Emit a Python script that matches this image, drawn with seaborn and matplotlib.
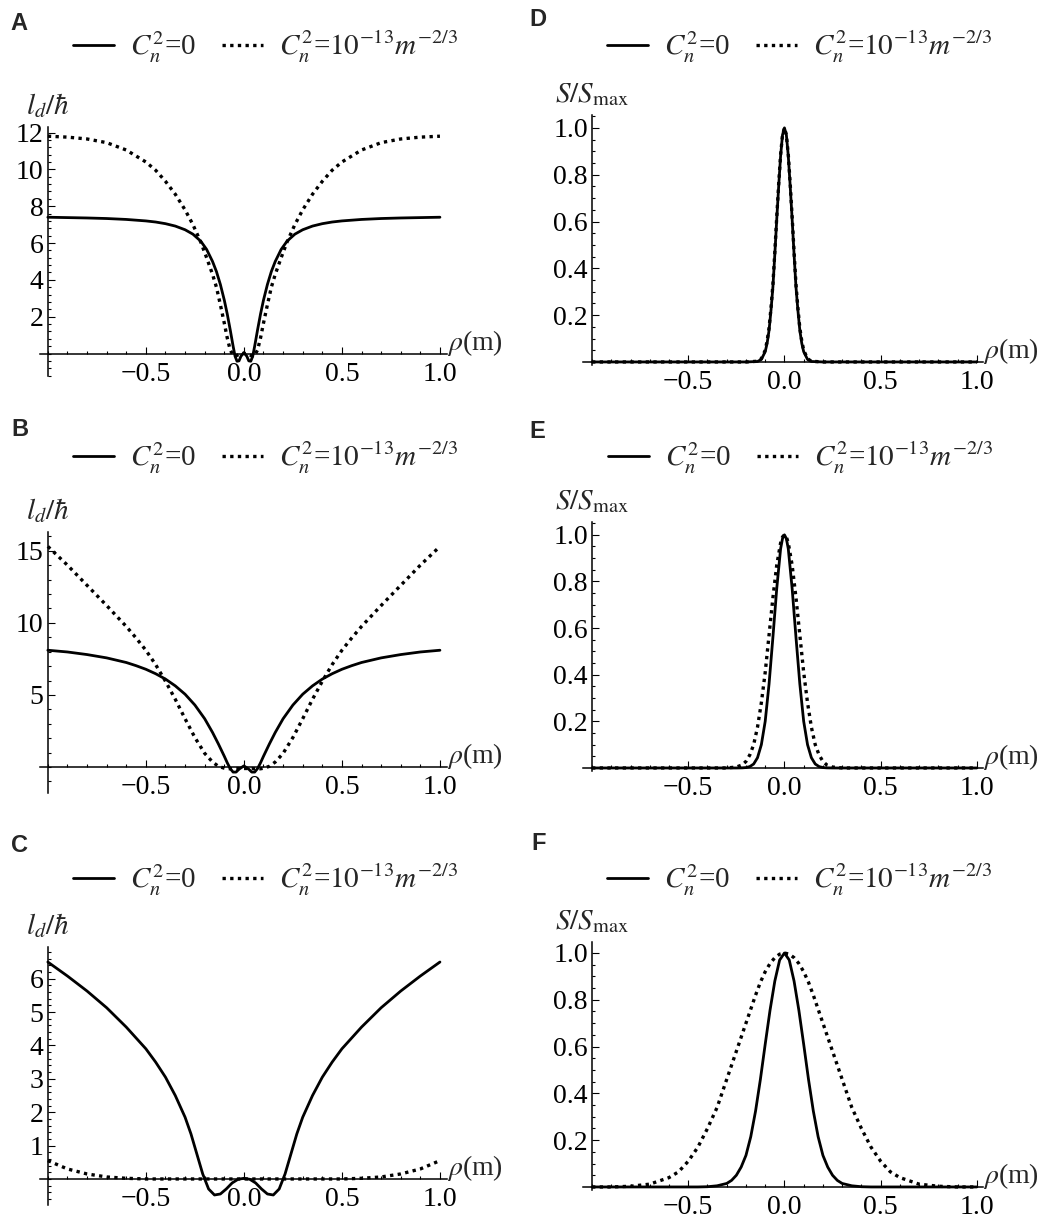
import matplotlib
matplotlib.use("Agg")
import matplotlib.pyplot as plt
import seaborn as sns
import numpy as np
import pandas as pd
from matplotlib.lines import Line2D
from matplotlib.ticker import MultipleLocator

sns.set_theme(style="white")
plt.rcParams["font.family"] = ["Liberation Serif", "DejaVu Serif"]
plt.rcParams["mathtext.fontset"] = "stix"
plt.rcParams["axes.unicode_minus"] = True

# ---- data (rho in m) ----
rho_a = [-1.0, -0.9, -0.8, -0.7, -0.6, -0.5, -0.45, -0.4, -0.35, -0.3, -0.26, -0.22, -0.19, -0.16,
         -0.14, -0.12, -0.1, -0.085, -0.07, -0.055, -0.045, -0.035, -0.025, -0.015, 0.0,
         0.015, 0.025, 0.035, 0.045, 0.055, 0.07, 0.085, 0.1, 0.12, 0.14, 0.16, 0.19, 0.22,
         0.26, 0.3, 0.35, 0.4, 0.45, 0.5, 0.6, 0.7, 0.8, 0.9, 1.0]
ld_a_vac = [7.4, 7.38, 7.36, 7.33, 7.28, 7.2, 7.14, 7.05, 6.92, 6.72, 6.48, 6.1, 5.65, 5.0,
            4.45, 3.75, 2.9, 2.15, 1.3, 0.4, -0.15, -0.42, -0.4, -0.15, 0.05,
            -0.15, -0.4, -0.42, -0.15, 0.4, 1.3, 2.15, 2.9, 3.75, 4.45, 5.0, 5.65, 6.1,
            6.48, 6.72, 6.92, 7.05, 7.14, 7.2, 7.28, 7.33, 7.36, 7.38, 7.4]
ld_a_turb = [11.8, 11.75, 11.65, 11.45, 11.05, 10.4, 9.95, 9.35, 8.65, 7.8, 7.0, 6.05, 5.2, 4.3,
             3.6, 2.65, 1.65, 0.85, 0.2, -0.1, -0.15, -0.1, -0.05, 0.0, 0.0,
             0.0, -0.05, -0.1, -0.15, -0.1, 0.2, 0.85, 1.65, 2.65, 3.6, 4.3, 5.2, 6.05,
             7.0, 7.8, 8.65, 9.35, 9.95, 10.4, 11.05, 11.45, 11.65, 11.75, 11.8]

rho_b = [-1.0, -0.9, -0.8, -0.7, -0.6, -0.55, -0.5, -0.45, -0.4, -0.35, -0.3, -0.25, -0.2, -0.16,
         -0.13, -0.1, -0.085, -0.07, -0.055, -0.04, -0.025, 0.0,
         0.025, 0.04, 0.055, 0.07, 0.085, 0.1, 0.13, 0.16, 0.2, 0.25, 0.3, 0.35, 0.4, 0.45,
         0.5, 0.55, 0.6, 0.7, 0.8, 0.9, 1.0]
ld_b_vac = [8.1, 7.98, 7.8, 7.57, 7.25, 7.03, 6.78, 6.47, 6.1, 5.63, 5.05, 4.3, 3.35, 2.4,
            1.6, 0.75, 0.3, -0.1, -0.35, -0.35, -0.15, 0.08,
            -0.15, -0.35, -0.35, -0.1, 0.3, 0.75, 1.6, 2.4, 3.35, 4.3, 5.05, 5.63, 6.1, 6.47,
            6.78, 7.03, 7.25, 7.57, 7.8, 7.98, 8.1]
ld_b_turb = [15.3, 14.0, 12.6, 11.2, 9.75, 8.95, 8.1, 7.1, 5.95, 4.7, 3.35, 2.05, 0.95, 0.35,
             0.05, -0.08, -0.12, -0.12, -0.12, -0.1, -0.1, -0.1,
             -0.1, -0.1, -0.12, -0.12, -0.12, -0.08, 0.05, 0.35, 0.95, 2.05, 3.35, 4.7, 5.95, 7.1,
             8.1, 8.95, 9.75, 11.2, 12.6, 14.0, 15.3]

rho_c = [-1.0, -0.9, -0.8, -0.7, -0.6, -0.5, -0.45, -0.4, -0.35, -0.3, -0.27, -0.24, -0.21, -0.18,
         -0.15, -0.12, -0.09, -0.06, -0.03, 0.0,
         0.03, 0.06, 0.09, 0.12, 0.15, 0.18, 0.21, 0.24, 0.27, 0.3, 0.35, 0.4, 0.45, 0.5,
         0.6, 0.7, 0.8, 0.9, 1.0]
ld_c_vac = [6.5, 6.08, 5.63, 5.13, 4.55, 3.9, 3.5, 3.05, 2.5, 1.85, 1.35, 0.75, 0.15, -0.3,
            -0.48, -0.45, -0.3, -0.12, -0.01, 0.02,
            -0.01, -0.12, -0.3, -0.45, -0.48, -0.3, 0.15, 0.75, 1.35, 1.85, 2.5, 3.05, 3.5, 3.9,
            4.55, 5.13, 5.63, 6.08, 6.5]
ld_c_turb = [0.55, 0.3, 0.15, 0.06, 0.02, 0.0, 0.0, 0.0, 0.0, 0.0, 0.0, 0.0, 0.0, 0.0,
             0.0, 0.0, 0.0, 0.0, 0.0, 0.0,
             0.0, 0.0, 0.0, 0.0, 0.0, 0.0, 0.0, 0.0, 0.0, 0.0, 0.0, 0.0, 0.0, 0.0,
             0.02, 0.06, 0.15, 0.3, 0.55]

rho_d = [-1.0, -0.5, -0.2, -0.14, -0.12, -0.1, -0.09, -0.08, -0.07, -0.06, -0.05, -0.04, -0.03,
         -0.02, -0.01, 0.0, 0.01, 0.02, 0.03, 0.04, 0.05, 0.06, 0.07, 0.08, 0.09, 0.1, 0.12,
         0.14, 0.2, 0.5, 1.0]
s_d_vac = [0.0, 0.0, 0.0, 0.002, 0.011, 0.044, 0.08, 0.135, 0.22, 0.32, 0.46, 0.61, 0.75,
           0.88, 0.97, 1.0, 0.97, 0.88, 0.75, 0.61, 0.46, 0.32, 0.22, 0.135, 0.08, 0.044, 0.011,
           0.002, 0.0, 0.0, 0.0]
s_d_turb = [0.0, 0.0, 0.0, 0.003, 0.014, 0.05, 0.09, 0.145, 0.23, 0.33, 0.47, 0.62, 0.76,
            0.885, 0.97, 1.0, 0.97, 0.885, 0.76, 0.62, 0.47, 0.33, 0.23, 0.145, 0.09, 0.05, 0.014,
            0.003, 0.0, 0.0, 0.0]

rho_e = [-1.0, -0.5, -0.3, -0.25, -0.22, -0.2, -0.18, -0.16, -0.14, -0.12, -0.1, -0.08, -0.06,
         -0.04, -0.02, -0.01, 0.0, 0.01, 0.02, 0.04, 0.06, 0.08, 0.1, 0.12, 0.14, 0.16, 0.18,
         0.2, 0.22, 0.25, 0.3, 0.5, 1.0]
s_e_vac = [0.0, 0.0, 0.0, 0.0, 0.0005, 0.0017, 0.006, 0.017, 0.044, 0.1, 0.2, 0.36, 0.56,
           0.77, 0.94, 0.984, 1.0, 0.984, 0.94, 0.77, 0.56, 0.36, 0.2, 0.1, 0.044, 0.017, 0.006,
           0.0017, 0.0005, 0.0, 0.0, 0.0, 0.0]
s_e_turb = [0.0, 0.0, 0.0, 0.004, 0.013, 0.028, 0.056, 0.1, 0.175, 0.28, 0.41, 0.57, 0.73,
            0.87, 0.965, 0.991, 1.0, 0.991, 0.965, 0.87, 0.73, 0.57, 0.41, 0.28, 0.175, 0.1,
            0.056, 0.028, 0.013, 0.004, 0.0, 0.0, 0.0]

rho_f = [-1.0, -0.9, -0.8, -0.7, -0.6, -0.55, -0.5, -0.45, -0.4, -0.35, -0.3, -0.275, -0.25,
         -0.225, -0.2, -0.175, -0.15, -0.125, -0.1, -0.075, -0.05, -0.025, 0.0, 0.025, 0.05,
         0.075, 0.1, 0.125, 0.15, 0.175, 0.2, 0.225, 0.25, 0.275, 0.3, 0.35, 0.4, 0.45, 0.5,
         0.55, 0.6, 0.7, 0.8, 0.9, 1.0]
s_f_vac = [0.0, 0.0, 0.0, 0.0, 0.0, 0.0, 0.0, 0.0, 0.001, 0.005, 0.015, 0.028, 0.05,
           0.085, 0.135, 0.215, 0.325, 0.46, 0.61, 0.755, 0.88, 0.97, 1.0, 0.97, 0.88,
           0.755, 0.61, 0.46, 0.325, 0.215, 0.135, 0.085, 0.05, 0.028, 0.015, 0.005, 0.001,
           0.0, 0.0, 0.0, 0.0, 0.0, 0.0, 0.0, 0.0]
s_f_turb = [0.0, 0.0, 0.003, 0.012, 0.04, 0.065, 0.11, 0.17, 0.25, 0.34, 0.46, 0.52, 0.58,
            0.64, 0.7, 0.76, 0.82, 0.875, 0.92, 0.955, 0.98, 0.995, 1.0, 0.995, 0.98,
            0.955, 0.92, 0.875, 0.82, 0.76, 0.7, 0.64, 0.58, 0.52, 0.46, 0.34, 0.25, 0.17, 0.11,
            0.065, 0.04, 0.012, 0.003, 0.0, 0.0]

x_ticks = [-0.5, 0.0, 0.5, 1.0]
x_tick_labels = ["\u22120.5", "0.0", "0.5", "1.0"]
legend_labels = [r"$C_n^2$=0", r"$C_n^2$=$10^{-13}m^{-2/3}$"]

W, H = 1060, 1219
fig = plt.figure(figsize=(W / 100, H / 100), dpi=100)

# letter, x, vac, turb, rect px (left, top, right, bottom), ylim, yticks, minor step, ylabel,
# letter pos px, legend centre px
panels = [
    ("A", rho_a, ld_a_vac, ld_a_turb, (40, 127, 447, 375.6), (-1.2, 12.3),
     [2, 4, 6, 8, 10, 12], 0.4, r"$l_d/\hbar$", (19, 24), (266, 47)),
    ("B", rho_b, ld_b_vac, ld_b_turb, (40, 532, 447, 793), (-1.8, 16.3),
     [5, 10, 15], 1.0, r"$l_d/\hbar$", (20, 430), (266, 458)),
    ("C", rho_c, ld_c_vac, ld_c_turb, (40, 947, 447, 1205), (-0.78, 6.95),
     [1, 2, 3, 4, 5, 6], 0.2, r"$l_d/\hbar$", (20, 846), (266, 880)),
    ("D", rho_d, s_d_vac, s_d_turb, (583, 115, 983, 365), (-0.013, 1.055),
     [0.2, 0.4, 0.6, 0.8, 1.0], 0.05, r"$S/S_{\rm max}$", (538, 20), (800, 47)),
    ("E", rho_e, s_e_vac, s_e_turb, (583, 522, 983, 771), (-0.013, 1.055),
     [0.2, 0.4, 0.6, 0.8, 1.0], 0.05, r"$S/S_{\rm max}$", (537, 431), (801, 458)),
    ("F", rho_f, s_f_vac, s_f_turb, (583, 942, 983, 1190), (-0.013, 1.047),
     [0.2, 0.4, 0.6, 0.8, 1.0], 0.05, r"$S/S_{\rm max}$", (539, 844), (800, 880)),
]

dot_style = (0, (1, 1.3))
fs = 20

for letter, x, vac, turb, rect, ylim, yt, ymin, ylab, lpos, legpos in panels:
    l, t, r, b = rect
    ax = fig.add_axes([l / W, 1 - b / H, (r - l) / W, (b - t) / H])
    df = pd.DataFrame({"rho": x, "vac": vac, "turb": turb})
    sns.lineplot(data=df, x="rho", y="vac", ax=ax, color="black", lw=2.0)
    sns.lineplot(data=df, x="rho", y="turb", ax=ax, color="black", lw=2.4,
                 linestyle=dot_style)

    if letter in "ABC":
        ax.set_xlim(-1.04, 1.036)
    else:
        ax.set_xlim(-1.047, 1.032)
    ax.set_ylim(*ylim)

    for s in ["top", "right"]:
        ax.spines[s].set_visible(False)
    ax.spines["left"].set_position(("data", -1))
    ax.spines["bottom"].set_position(("data", 0))
    for s in ["left", "bottom"]:
        ax.spines[s].set_color("black")
        ax.spines[s].set_linewidth(1.1)

    ax.set_xticks(x_ticks, x_tick_labels)
    ax.xaxis.set_minor_locator(MultipleLocator(0.1))
    if letter in "ABC":
        ax.set_yticks(yt, [str(v) for v in yt])
    else:
        ax.set_yticks(yt, [f"{v:.1f}" for v in yt])
    ax.yaxis.set_minor_locator(MultipleLocator(ymin))
    ax.tick_params(which="both", direction="in", color="black", width=0.8,
                   labelsize=fs, labelcolor="black")
    ax.tick_params(which="major", length=5)
    ax.tick_params(which="minor", length=2.5)
    ax.tick_params(axis="x", which="both", pad=6, bottom=True)
    ax.tick_params(axis="y", which="both", pad=3, left=True)
    ax.set_xlabel("")
    ax.set_ylabel("")
    ax.grid(False)

    ax.annotate(r"$\rho$(m)", xy=(1, 0), xycoords=("axes fraction", "data"),
                xytext=(0, -3), textcoords="offset points", ha="left", va="bottom",
                fontsize=fs)
    ax.annotate(ylab, xy=(-1, 1), xycoords=("data", "axes fraction"),
                xytext=(0, 5), textcoords="offset points", ha="center", va="bottom",
                fontsize=21)

    handles = [Line2D([], [], color="black", lw=2.0),
               Line2D([], [], color="black", lw=2.4, linestyle=dot_style)]
    ax.legend(handles, legend_labels, loc="center", ncol=2, frameon=False,
              bbox_to_anchor=(legpos[0] / W, 1 - legpos[1] / H),
              bbox_transform=fig.transFigure, fontsize=21, handlelength=1.4,
              handletextpad=0.55, columnspacing=0.9, borderpad=0)

    fig.text(lpos[0] / W, 1 - lpos[1] / H, letter, ha="center", va="center",
             fontsize=17, fontweight="bold", family=["Liberation Sans", "DejaVu Sans"])

fig.savefig("out.png", dpi=100, facecolor="white")
